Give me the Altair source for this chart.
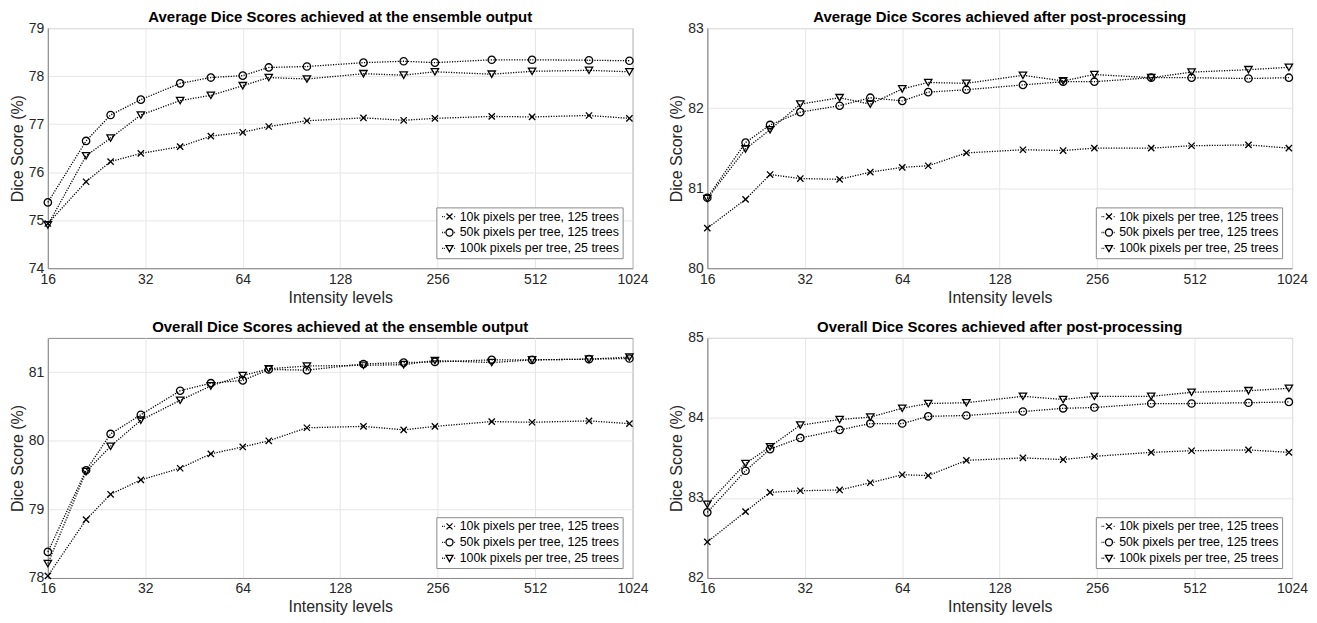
import altair as alt
import pandas as pd

# ---- data -------------------------------------------------------------
levels = [16, 21, 25, 31, 41, 51, 64, 77, 101, 151, 201, 251, 376, 501, 751, 1001]
series_names = ["10k pixels per tree, 125 trees",
                "50k pixels per tree, 125 trees",
                "100k pixels per tree, 25 trees"]

avg_ens_10k = [74.93, 75.80, 76.22, 76.39, 76.53, 76.75, 76.83, 76.95, 77.07, 77.13, 77.08, 77.12, 77.16, 77.15, 77.18, 77.12]
avg_ens_50k = [75.37, 76.65, 77.19, 77.51, 77.85, 77.97, 78.01, 78.18, 78.20, 78.28, 78.31, 78.28, 78.34, 78.34, 78.33, 78.32]
avg_ens_100k = [74.90, 76.34, 76.71, 77.19, 77.49, 77.60, 77.80, 77.97, 77.94, 78.05, 78.02, 78.09, 78.04, 78.10, 78.12, 78.09]

avg_post_10k = [80.50, 80.86, 81.17, 81.12, 81.11, 81.20, 81.26, 81.28, 81.44, 81.48, 81.47, 81.50, 81.50, 81.53, 81.54, 81.50]
avg_post_50k = [80.88, 81.57, 81.79, 81.95, 82.03, 82.13, 82.09, 82.20, 82.23, 82.29, 82.33, 82.33, 82.38, 82.38, 82.37, 82.38]
avg_post_100k = [80.87, 81.49, 81.73, 82.05, 82.13, 82.05, 82.24, 82.32, 82.31, 82.41, 82.34, 82.42, 82.38, 82.45, 82.48, 82.51]

ovr_ens_10k = [78.03, 78.85, 79.22, 79.43, 79.60, 79.81, 79.91, 80.00, 80.19, 80.21, 80.16, 80.21, 80.28, 80.27, 80.29, 80.25]
ovr_ens_50k = [78.38, 79.57, 80.10, 80.38, 80.73, 80.84, 80.88, 81.04, 81.03, 81.12, 81.14, 81.15, 81.18, 81.18, 81.19, 81.20]
ovr_ens_100k = [78.21, 79.55, 79.92, 80.30, 80.59, 80.80, 80.95, 81.05, 81.09, 81.10, 81.11, 81.17, 81.14, 81.18, 81.19, 81.22]

ovr_post_10k = [82.45, 82.83, 83.07, 83.09, 83.10, 83.19, 83.29, 83.28, 83.47, 83.50, 83.48, 83.52, 83.57, 83.59, 83.60, 83.57]
ovr_post_50k = [82.82, 83.34, 83.61, 83.75, 83.85, 83.93, 83.93, 84.02, 84.03, 84.08, 84.12, 84.13, 84.18, 84.18, 84.19, 84.20]
ovr_post_100k = [82.92, 83.43, 83.64, 83.91, 83.98, 84.01, 84.12, 84.18, 84.19, 84.27, 84.23, 84.27, 84.27, 84.32, 84.34, 84.37]

titles = ["Average Dice Scores achieved at the ensemble output",
          "Average Dice Scores achieved after post-processing",
          "Overall Dice Scores achieved at the ensemble output",
          "Overall Dice Scores achieved after post-processing"]
x_ticks = [16, 32, 64, 128, 256, 512, 1024]

# marker glyphs (plot) and the same glyphs with a short dotted line for the legend
DOTS = "M-2.1,0L-1.85,0M-1.6,0L-1.35,0M1.35,0L1.6,0"
CROSS = "M-0.85,-0.85L0.85,0.85M-0.85,0.85L0.85,-0.85"
CIRCLE = "M-1,0A1,1 0 1,0 1,0A1,1 0 1,0 -1,0Z"
TRI = "M-1,-0.8L1,-0.8L0,0.95Z"
LEG_SHAPES = [CROSS + DOTS, CIRCLE + DOTS, TRI + DOTS]
GRAY = "#8a8a8a"


def panel(s10, s50, s100, title, ydom, yticks, title_offset):
    rows = []
    for name, vals in zip(series_names, [s10, s50, s100]):
        for lv, v in zip(levels, vals):
            rows.append({"level": lv, "score": v, "series": name, "leg": name})
    df = pd.DataFrame(rows)
    base = alt.Chart(df).encode(
        x=alt.X("level:Q",
                scale=alt.Scale(type="log", base=2, domain=[16, 1024], nice=False),
                axis=alt.Axis(values=x_ticks, format="d", title="Intensity levels")),
        y=alt.Y("score:Q",
                scale=alt.Scale(domain=ydom, nice=False, zero=False),
                axis=alt.Axis(values=yticks, format="d", title="Dice Score (%)")),
    )
    lines = base.mark_line(color="black", strokeDash=[1.2, 1.4], strokeWidth=1.3).encode(
        detail="series:N")
    pts = base.mark_point(filled=False, color="black", strokeWidth=1.3, size=55, opacity=1).encode(
        shape=alt.Shape("series:N",
                        scale=alt.Scale(domain=series_names, range=[CROSS, "circle", "triangle-down"]),
                        legend=None))
    leg = base.mark_point(filled=False, color="black", strokeWidth=1.3, size=50, opacity=0).encode(
        shape=alt.Shape("leg:N",
                        scale=alt.Scale(domain=series_names, range=LEG_SHAPES),
                        legend=alt.Legend(title=None, orient="bottom-right", offset=10,
                                          fillColor="white", strokeColor=GRAY, padding=3,
                                          labelFontSize=12.4, labelColor="black", labelLimit=0,
                                          symbolStrokeColor="black", symbolFillColor="transparent",
                                          symbolOpacity=1, symbolSize=50, symbolStrokeWidth=1.3,
                                          symbolOffset=4, rowPadding=3, labelOffset=4)))
    return alt.layer(lines, pts, leg).resolve_scale(shape="independent").properties(
        width=587, height=241, title=alt.TitleParams(title, offset=title_offset))


p1 = panel(avg_ens_10k, avg_ens_50k, avg_ens_100k, titles[0], [74, 79], [74, 75, 76, 77, 78, 79], -4)
p2 = panel(avg_post_10k, avg_post_50k, avg_post_100k, titles[1], [80, 83], [80, 81, 82, 83], -4)
p3 = panel(ovr_ens_10k, ovr_ens_50k, ovr_ens_100k, titles[2], [78, 81.5], [78, 79, 80, 81], 3)
p4 = panel(ovr_post_10k, ovr_post_50k, ovr_post_100k, titles[3], [82, 85], [82, 83, 84, 85], -4)

row1 = alt.hconcat(p1, p2, spacing=18).resolve_scale(shape="independent").resolve_legend(shape="independent")
row2 = alt.hconcat(p3, p4, spacing=18).resolve_scale(shape="independent").resolve_legend(shape="independent")

chart = alt.vconcat(row1, row2, spacing=13).resolve_scale(
    shape="independent"
).resolve_legend(
    shape="independent"
).properties(padding=0).configure(
    font="Liberation Sans"
).configure_view(
    stroke=GRAY, strokeWidth=1
).configure_title(
    fontSize=15, fontWeight="bold", color="black", anchor="middle"
).configure_axis(
    labelFontSize=14, titleFontSize=16, titleFontWeight="normal",
    labelColor="#262626", titleColor="#262626",
    gridColor="#e6e6e6", domainColor=GRAY, ticks=False,
    labelPadding=4, titlePadding=3, labelOverlap=False, labelFlush=False,
)

chart.save("out.html", embed_options={"renderer": "svg", "actions": False})
